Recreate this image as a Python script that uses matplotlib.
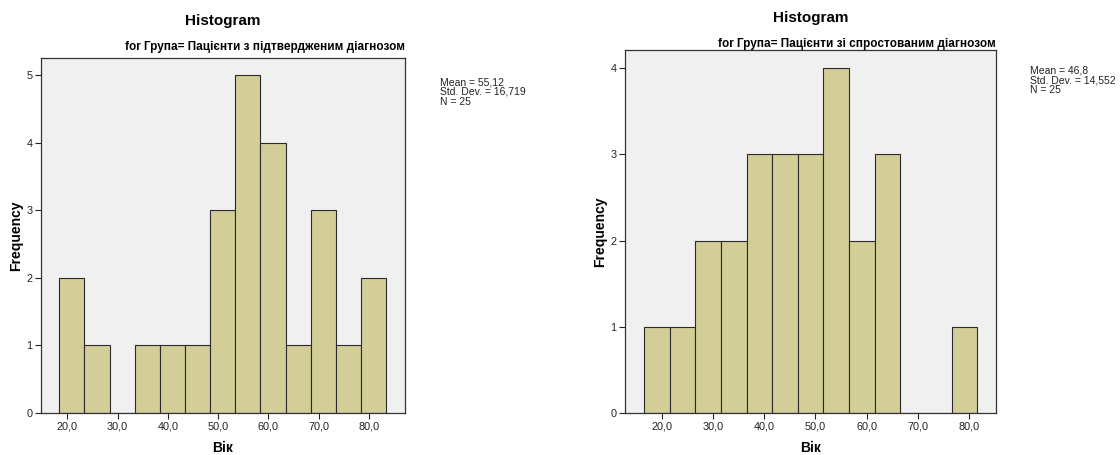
import matplotlib
matplotlib.use("Agg")
import matplotlib.pyplot as plt
import numpy as np

plt.rcParams['font.family'] = ['Liberation Sans', 'DejaVu Sans']

# Data
left_edges_start = 18.4
right_edges_start = 16.56
bin_width = 5
left_counts = [2, 1, 0, 1, 1, 1, 3, 5, 4, 1, 3, 1, 2]
right_counts = [1, 1, 2, 2, 3, 3, 3, 4, 2, 3, 0, 0, 1]
xticks = [20, 30, 40, 50, 60, 70, 80]
xtick_labels = ["20,0", "30,0", "40,0", "50,0", "60,0", "70,0", "80,0"]
left_subtitle = "for Група= Пацієнти з підтвердженим діагнозом"
right_subtitle = "for Група= Пацієнти зі спростованим діагнозом"
left_stats = "Mean = 55,12\nStd. Dev. = 16,719\nN = 25"
right_stats = "Mean = 46,8\nStd. Dev. = 14,552\nN = 25"

BAR = "#D3CE98"
BG = "#F0F0F0"

fig = plt.figure(figsize=(11.2, 4.55), dpi=100)

def panel(rect, start, counts, xlim, ylim, yticks, subtitle, stats, title_y, stats_y):
    ax = fig.add_axes(rect)
    ax.set_facecolor(BG)
    edges = start + bin_width * np.arange(len(counts) + 1)
    ax.bar(edges[:-1], counts, width=bin_width, align='edge', color=BAR,
           edgecolor='#2a2a2a', linewidth=0.8, zorder=2)
    ax.set_xlim(*xlim)
    ax.set_ylim(*ylim)
    ax.set_xticks(xticks)
    ax.set_xticklabels(xtick_labels)
    ax.set_yticks(yticks)
    ax.tick_params(labelsize=7.8, length=4, width=0.8, pad=2, colors='#222222')
    for s in ax.spines.values():
        s.set_color('#333333')
        s.set_linewidth(0.9)
    x0, y0, w, h = rect
    figw, figh = 1120.0, 455.0
    ax.set_xlabel("Вік", fontsize=10, fontweight='bold', va='center')
    ax.set_ylabel("Frequency", fontsize=10, fontweight='bold', va='center')
    ax.xaxis.set_label_coords(0.5, -35.0 / (h * figh))
    ax.yaxis.set_label_coords(-25.0 / (w * figw), 0.5)
    fig.text(x0 + w / 2, title_y, "Histogram", ha='center', va='center',
             fontsize=11, fontweight='bold')
    fig.text(x0 + w, title_y - 0.057, subtitle, ha='right', va='center',
             fontsize=8.5, fontweight='bold')
    fig.text(x0 + w + 0.031, stats_y, stats, ha='left', va='top',
             fontsize=7.5, linespacing=0.95, color='#222222')
    return ax

panel([0.0366, 0.0923, 0.325, 0.780], left_edges_start, left_counts,
      (14.77, 87.16), (0, 5.25), [0, 1, 2, 3, 4, 5],
      left_subtitle, left_stats, 0.953, 0.830)
panel([0.558, 0.0923, 0.331, 0.798], right_edges_start, right_counts,
      (12.85, 85.15), (0, 4.21), [0, 1, 2, 3, 4],
      right_subtitle, right_stats, 0.960, 0.855)

fig.savefig("out.png", dpi=100)
